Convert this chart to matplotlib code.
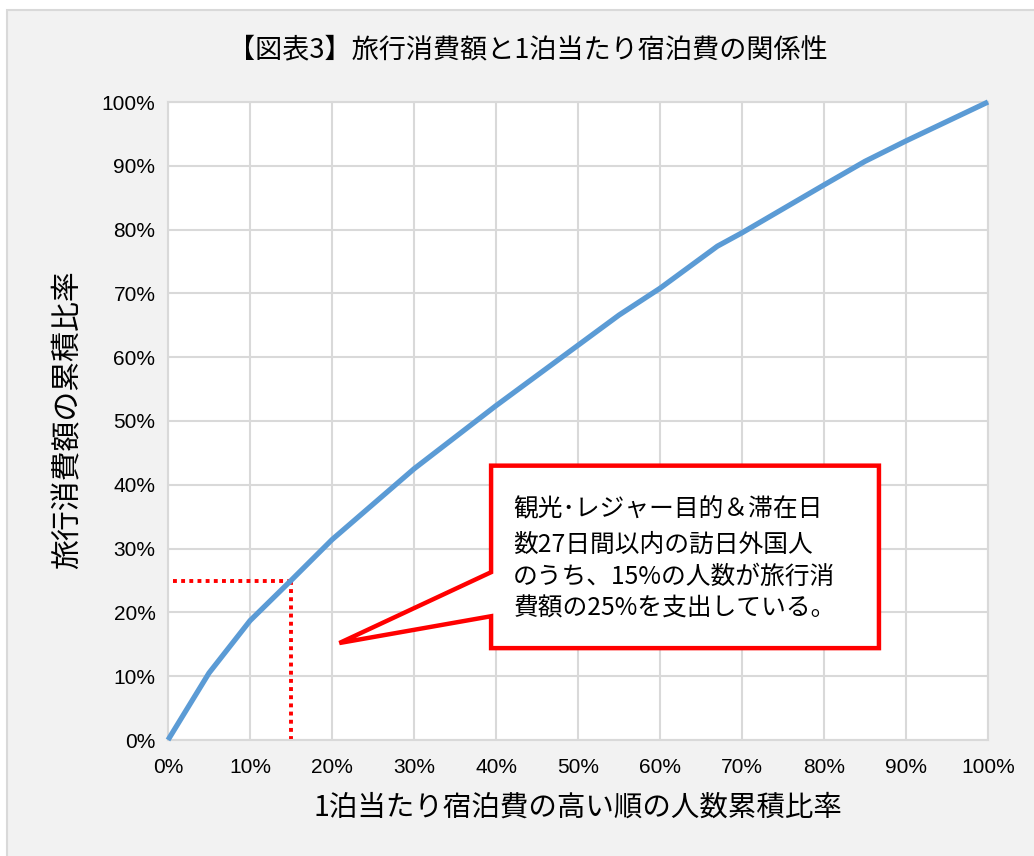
import matplotlib
matplotlib.use("Agg")
import matplotlib.pyplot as plt
from matplotlib.patches import Polygon, Rectangle
from matplotlib.ticker import FuncFormatter, MultipleLocator

plt.rcParams["font.family"] = ["Noto Sans CJK JP", "DejaVu Sans"]

# cumulative share of visitors (high nightly spend first) vs cumulative share of spend, in %
people_share = [0, 5, 10, 15, 20, 30, 40, 55, 60, 67, 70, 80, 85, 90, 100]
spend_share = [0, 10.5, 18.7, 25, 31.4, 42.5, 52.4, 66.6, 70.8, 77.4, 79.5, 87, 90.7, 93.9, 100]

marker_x = 15
marker_y = 25

title = "【図表3】旅行消費額と1泊当たり宿泊費の関係性"
xlabel = "1泊当たり宿泊費の高い順の人数累積比率"
ylabel = "旅行消費額の累積比率"
callout_lines = [
    "観光･レジャー目的＆滞在日",
    "数27日間以内の訪日外国人",
    "のうち、15%の人数が旅行消",
    "費額の25%を支出している。",
]

W, H = 1034, 856
fig = plt.figure(figsize=(W / 100, H / 100), dpi=100, facecolor="white")
fig.patches.append(Rectangle((7 / W, -0.01), 1.02, 1 - 10 / H + 0.01, transform=fig.transFigure,
                             facecolor="#f2f2f2", edgecolor="#d9d9d9", linewidth=1.5, zorder=-10))

ax = fig.add_axes([168 / W, 1 - 740 / H, (988 - 168) / W, (740 - 102) / H])
ax.set_facecolor("white")
ax.set_xlim(0, 100)
ax.set_ylim(0, 100)
ax.xaxis.set_major_locator(MultipleLocator(10))
ax.yaxis.set_major_locator(MultipleLocator(10))
pct = FuncFormatter(lambda v, _: f"{v:.0f}%")
ax.xaxis.set_major_formatter(pct)
ax.yaxis.set_major_formatter(pct)
ax.tick_params(length=0, labelsize=15, colors="black")
ax.tick_params(axis="x", pad=13)
ax.tick_params(axis="y", pad=9)
for lab in ax.get_xticklabels() + ax.get_yticklabels():
    lab.set_fontfamily("Liberation Sans")
ax.grid(True, color="#d9d9d9", linewidth=1.5)
ax.set_axisbelow(True)
for s in ax.spines.values():
    s.set_color("#d9d9d9")
    s.set_linewidth(1.5)

ax.plot(people_share, spend_share, color="#5b9bd5", linewidth=3.8, solid_joinstyle="round",
        solid_capstyle="butt", zorder=3, clip_on=False)

# dotted guides at 15% / 25%
ax.plot([0.6, marker_x], [marker_y, marker_y], color="red", linewidth=2.8,
        linestyle=(0, (1, 1.1)), zorder=2)
ax.plot([marker_x, marker_x], [0, marker_y], color="red", linewidth=2.8,
        linestyle=(0, (1, 1.1)), zorder=2, clip_on=False)

# callout box with pointer
bx0, bx1, by0, by1 = 39.4, 86.7, 14.4, 43.0
callout = Polygon([(bx0, by1), (bx1, by1), (bx1, by0), (bx0, by0), (bx0, 19.4),
                   (20.9, 15.2), (bx0, 26.3)], closed=True, facecolor="white",
                  edgecolor="red", linewidth=3.2, joinstyle="miter", zorder=4)
ax.add_patch(callout)
line_y = [36.2, 30.6, 25.6, 20.6]
for txt, yy in zip(callout_lines, line_y):
    ax.text(42.1, yy, txt, fontsize=17.8, ha="left", va="center", zorder=5)

fig.text(528 / W, 1 - 50 / H, title, fontsize=19.5, ha="center", va="center")
fig.text(578 / W, 1 - 808 / H, xlabel, fontsize=20.5, ha="center", va="center")
fig.text(68 / W, 1 - 420 / H, ylabel, fontsize=21.5, ha="center", va="center", rotation=90)

fig.savefig("out.png", dpi=100, facecolor="white")
